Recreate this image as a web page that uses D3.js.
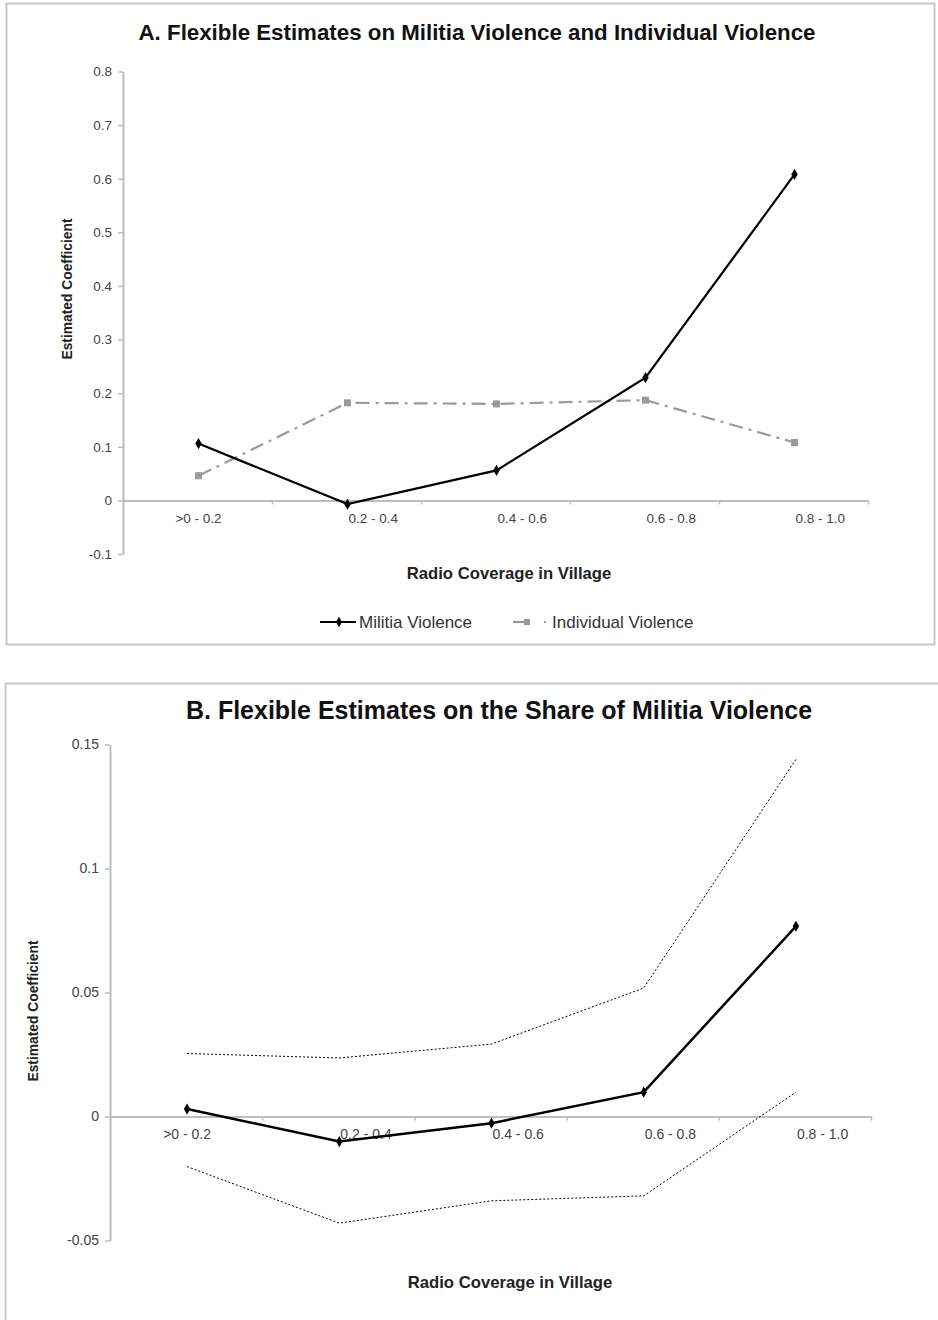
<!DOCTYPE html>
<html>
<head>
<meta charset="utf-8">
<script src="https://cdn.jsdelivr.net/npm/d3@7"></script>
<style>
  body { margin: 0; background: #fff; }
  svg { display: block; font-family: "Liberation Sans", Arial, sans-serif; }
</style>
</head>
<body>
<div id="chart"></div>
<script>
// categories shared by both panels
const categories = [">0 - 0.2", "0.2 - 0.4", "0.4 - 0.6", "0.6 - 0.8", "0.8 - 1.0"];

// panel A
const militiaA = [0.106, -0.007, 0.056, 0.229, 0.608];
const individualA = [0.046, 0.182, 0.180, 0.187, 0.108];
const ticksA = [-0.1, 0, 0.1, 0.2, 0.3, 0.4, 0.5, 0.6, 0.7, 0.8];

// panel B
const shareB = [0.003, -0.0101, -0.0027, 0.0098, 0.0767];
const upperB = [0.0254, 0.0236, 0.0292, 0.0518, 0.144];
const lowerB = [-0.0202, -0.043, -0.034, -0.032, 0.0098];
const ticksB = [-0.05, 0, 0.05, 0.1, 0.15];

const W = 938, H = 1320;
const svg = d3.select("#chart").append("svg").attr("width", W).attr("height", H);

// panel frames
svg.append("rect").attr("x", 6.5).attr("y", 3.5).attr("width", 928).attr("height", 641)
  .attr("fill", "none").attr("stroke", "#c8c8c8").attr("stroke-width", 2);
svg.append("rect").attr("x", 5.5).attr("y", 683.5).attr("width", 960).attr("height", 700)
  .attr("fill", "none").attr("stroke", "#c8c8c8").attr("stroke-width", 2);

function diamond(g, pts, size, color) {
  g.selectAll(null).data(pts).join("path")
    .attr("d", d3.symbol(d3.symbolDiamond, size)())
    .attr("transform", d => `translate(${d[0]},${d[1]})`)
    .attr("fill", color);
}

function styleAxis(g, fontSize) {
  g.selectAll(".domain").attr("stroke", "#bdbdbd").attr("stroke-width", 2);
  g.selectAll(".tick line").attr("stroke", "#bdbdbd").attr("stroke-width", 1.5);
  g.selectAll("text").attr("fill", "#444").style("font-size", fontSize + "px");
}

function drawAxes(x, xEdge, y, ticks, fmt, fs) {
  const [x0] = x.range();
  // x axis line with boundary ticks
  const gx = svg.append("g").attr("transform", `translate(0,${y(0)})`)
    .call(d3.axisBottom(xEdge).tickValues(d3.range(1, categories.length + 1))
      .tickFormat("").tickSize(4).tickSizeOuter(0));
  styleAxis(gx, fs);
  // category labels (first one centred, the rest start at the category centre)
  const gl = svg.append("g").attr("transform", `translate(0,${y(0)})`)
    .call(d3.axisBottom(x).tickSize(0).tickPadding(13));
  gl.select(".domain").remove();
  gl.selectAll(".tick text")
    .attr("text-anchor", (d, i) => i === 0 ? "middle" : "start")
    .attr("x", (d, i) => i === 0 ? 1 : 2);
  styleAxis(gl, fs);
  // y axis
  const gy = svg.append("g").attr("transform", `translate(${x0},0)`)
    .call(d3.axisLeft(y).tickValues(ticks).tickFormat(fmt).tickSize(5).tickSizeOuter(0).tickPadding(6));
  styleAxis(gy, fs);
}

// ---------------- Panel A ----------------
{
  const x = d3.scaleBand().domain(categories).range([123, 868]);
  const xEdge = d3.scaleLinear().domain([0, categories.length]).range([123, 868]);
  const y = d3.scaleLinear().domain([-0.1, 0.8]).range([554, 71.5]);
  const fmt = d => d === 0 ? "0" : d3.format(".1f")(d).replace("−", "-");
  drawAxes(x, xEdge, y, ticksA, fmt, 13.5);

  const cx = (d, i) => x(categories[i]) + x.bandwidth() / 2 + 1;
  const line = d3.line().x(cx).y(d => y(d));

  svg.append("path").datum(individualA).attr("d", line)
    .attr("fill", "none").attr("stroke", "#9a9a9a").attr("stroke-width", 2.2)
    .attr("stroke-dasharray", "14,6,3,6");
  svg.selectAll(null).data(individualA).join("rect")
    .attr("x", (d, i) => cx(d, i) - 3.5).attr("y", d => y(d) - 3.5)
    .attr("width", 7).attr("height", 7).attr("fill", "#9a9a9a");

  svg.append("path").datum(militiaA).attr("d", line)
    .attr("fill", "none").attr("stroke", "#000").attr("stroke-width", 2.2);
  diamond(svg, militiaA.map((d, i) => [cx(d, i), y(d)]), 36, "#000");

  svg.append("text").attr("x", 477).attr("y", 40).attr("text-anchor", "middle")
    .style("font-size", "22.3px").style("font-weight", "bold").attr("fill", "#111")
    .text("A. Flexible Estimates on Militia Violence and Individual Violence");
  svg.append("text").attr("transform", "translate(72,289) rotate(-90)").attr("text-anchor", "middle")
    .style("font-size", "13.8px").style("font-weight", "bold").attr("fill", "#222")
    .text("Estimated Coefficient");
  svg.append("text").attr("x", 509).attr("y", 579).attr("text-anchor", "middle")
    .style("font-size", "16.7px").style("font-weight", "bold").attr("fill", "#222")
    .text("Radio Coverage in Village");

  // legend
  const lg = svg.append("g").attr("transform", "translate(0,622)");
  lg.append("line").attr("x1", 320).attr("x2", 356).attr("stroke", "#000").attr("stroke-width", 2.2);
  diamond(lg, [[339, 0]], 32, "#000");
  lg.append("text").attr("x", 359).attr("y", 6).style("font-size", "17px").attr("fill", "#333").text("Militia Violence");
  lg.append("line").attr("x1", 513).attr("x2", 530).attr("stroke", "#9a9a9a").attr("stroke-width", 2.2);
  lg.append("rect").attr("x", 524).attr("y", -3).attr("width", 6).attr("height", 6).attr("fill", "#9a9a9a");
  lg.append("rect").attr("x", 544).attr("y", -1).attr("width", 2).attr("height", 2).attr("fill", "#9a9a9a");
  lg.append("text").attr("x", 552).attr("y", 6).style("font-size", "17px").attr("fill", "#333").text("Individual Violence");
}

// ---------------- Panel B ----------------
{
  const x = d3.scaleBand().domain(categories).range([110, 871]);
  const xEdge = d3.scaleLinear().domain([0, categories.length]).range([110, 871]);
  const y = d3.scaleLinear().domain([-0.05, 0.15]).range([1240.5, 744.5]);
  const fmt = d => d === 0 ? "0" : String(+d.toFixed(2));
  drawAxes(x, xEdge, y, ticksB, fmt, 14);

  const cx = (d, i) => x(categories[i]) + x.bandwidth() / 2 + 1;
  const line = d3.line().x(cx).y(d => y(d));

  [upperB, lowerB].forEach(s => {
    svg.append("path").datum(s).attr("d", line)
      .attr("fill", "none").attr("stroke", "#000").attr("stroke-width", 1)
      .attr("stroke-dasharray", "2,2");
  });
  svg.append("path").datum(shareB).attr("d", line)
    .attr("fill", "none").attr("stroke", "#000").attr("stroke-width", 2.5);
  diamond(svg, shareB.map((d, i) => [cx(d, i), y(d)]), 36, "#000");

  svg.append("text").attr("x", 499).attr("y", 719).attr("text-anchor", "middle")
    .style("font-size", "25px").style("font-weight", "bold").attr("fill", "#111")
    .text("B. Flexible Estimates on the Share of Militia Violence");
  svg.append("text").attr("transform", "translate(38,1011) rotate(-90)").attr("text-anchor", "middle")
    .style("font-size", "13.8px").style("font-weight", "bold").attr("fill", "#222")
    .text("Estimated Coefficient");
  svg.append("text").attr("x", 510).attr("y", 1288).attr("text-anchor", "middle")
    .style("font-size", "16.7px").style("font-weight", "bold").attr("fill", "#222")
    .text("Radio Coverage in Village");
}
</script>
</body>
</html>
